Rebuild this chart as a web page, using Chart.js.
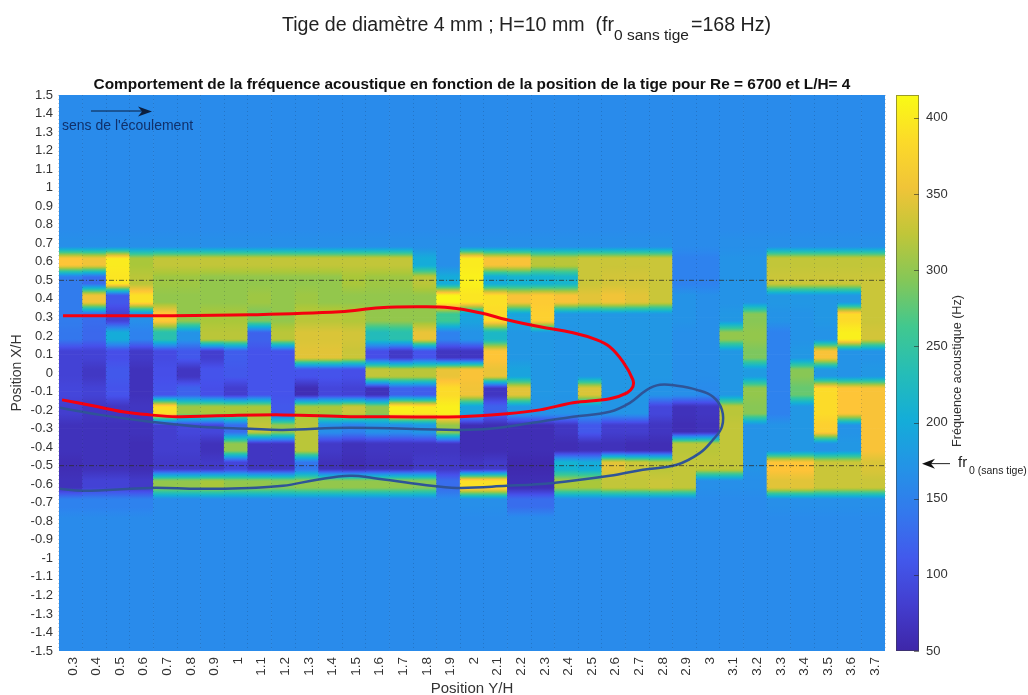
<!DOCTYPE html>
<html>
<head>
<meta charset="utf-8">
<title>Fréquence acoustique</title>
<script src="https://cdn.jsdelivr.net/npm/chart.js@4"></script>
<style>
    html, body { margin: 0; background: #fff; }
    #wrap { position: relative; width: 1028px; height: 695px; overflow: hidden; }
    #heat { position: absolute; left: 0; top: 0; }
    #bar { position: absolute; left: 885px; top: 0; }
</style>
</head>
<body>
<div id="wrap">
    <canvas id="heat" width="1028" height="695"></canvas>
    <canvas id="bar" width="143" height="695"></canvas>
</div>
<script>
const positionsY = ['0.3','0.4','0.5','0.6','0.7','0.8','0.9','1','1.1','1.2','1.3','1.4','1.5','1.6','1.7','1.8','1.9','2','2.1','2.2','2.3','2.4','2.5','2.6','2.7','2.8','2.9','3','3.1','3.2','3.3','3.4','3.5','3.6','3.7'];
const rowsX = [0.7,0.6,0.5,0.4,0.3,0.2,0.1,0,-0.1,-0.2,-0.3,-0.4,-0.5,-0.6,-0.7];
const farField = 160; // flat blue above 0.8 and below -0.8

// acoustic frequency (Hz) per column, one value per entry of rowsX
const col03 = [165,365,145,145,145,140,85,85,90,80,65,65,60,65,150];
const col04 = [165,355,130,355,130,125,85,72,85,70,65,65,65,85,150];
const col05 = [165,400,395,110,85,200,100,110,105,70,65,65,65,85,150];
const col06 = [165,310,320,390,165,150,75,65,65,70,65,60,60,75,150];
const col07 = [165,325,305,300,370,240,95,100,105,390,80,80,75,300,160];
const col08 = [165,325,305,300,300,170,110,70,120,305,90,80,75,300,160];
const col09 = [165,325,300,300,310,320,80,105,100,310,90,65,75,310,160];
const col10 = [165,325,300,300,310,320,115,110,80,310,130,300,90,300,160];
const col11 = [165,325,300,305,290,120,105,105,105,310,325,70,70,300,160];
const col12 = [165,325,300,300,300,320,105,105,105,110,300,70,70,295,160];
const col13 = [165,325,300,305,320,340,345,105,60,310,320,320,140,300,160];
const col14 = [165,325,300,300,320,340,345,105,90,310,165,75,65,300,160];
const col15 = [165,325,310,300,315,335,330,100,85,330,150,65,60,300,160];
const col16 = [165,325,305,300,300,230,100,325,65,300,170,70,65,300,160];
const col17 = [165,325,305,300,300,240,75,320,120,405,165,70,65,300,160];
const col18 = [165,200,320,300,300,350,105,320,115,400,175,70,75,295,160];
const col19 = [165,165,200,410,260,150,70,350,385,405,300,70,75,130,160];
const col20 = [165,400,405,395,190,170,70,360,355,190,60,60,70,390,165];
const col21 = [165,360,200,390,385,220,365,350,70,120,60,60,75,390,165];
const col22 = [165,360,210,360,190,175,175,190,345,175,60,60,55,60,130];
const col23 = [165,320,210,370,375,175,175,175,175,170,60,60,55,60,130];
const col24 = [165,320,215,360,175,172,172,172,172,170,70,60,210,310,160];
const col25 = [165,330,330,345,175,175,175,175,340,175,110,65,200,310,160];
const col26 = [165,330,335,355,175,175,175,175,175,172,80,65,345,325,160];
const col27 = [165,330,335,345,175,175,175,175,175,172,80,60,330,325,160];
const col28 = [165,330,330,330,175,175,175,175,170,90,70,60,320,330,160];
const col29 = [160,150,150,170,170,165,165,165,165,65,60,320,325,325,160];
const col30 = [160,150,150,165,165,165,165,165,160,70,65,320,325,165,160];
const col31 = [165,170,170,170,175,300,175,175,175,320,325,325,325,165,160];
const col32 = [165,170,170,170,295,300,290,180,300,295,170,170,170,165,160];
const col33 = [165,325,330,175,170,150,150,150,150,150,170,170,365,345,165];
const col34 = [165,325,330,175,170,170,175,295,280,175,175,175,365,345,165];
const col35 = [165,325,330,175,175,170,360,175,385,385,375,170,330,330,165];
const col36 = [165,325,330,175,385,405,170,170,365,365,170,175,330,330,165];
const col37 = [165,325,330,330,330,335,170,175,360,360,360,360,340,330,165];
const columns = [col03,col04,col05,col06,col07,col08,col09,col10,col11,col12,col13,col14,col15,col16,col17,col18,col19,col20,col21,col22,col23,col24,col25,col26,col27,col28,col29,col30,col31,col32,col33,col34,col35,col36,col37];

// hand drawn contours, in axis units
const redX = [0.267,0.636,1.059,1.441,1.61,1.78,1.907,2.034,2.148,2.288,2.428,2.529,2.584,2.64,2.682,2.682,2.657,2.584,2.428,2.288,2.148,1.949,1.652,1.483,1.199,0.919,0.75,0.636,0.521,0.394,0.263];
const redY = [0.309,0.309,0.314,0.33,0.352,0.357,0.352,0.325,0.287,0.249,0.217,0.179,0.141,0.06,-0.037,-0.074,-0.107,-0.139,-0.161,-0.199,-0.22,-0.236,-0.236,-0.236,-0.226,-0.231,-0.236,-0.226,-0.209,-0.177,-0.145];
const blueX = [0.254,0.424,0.636,0.847,1.059,1.199,1.483,1.936,2.076,2.288,2.428,2.584,2.669,2.741,2.796,2.868,2.953,3.021,3.059,3.059,3.021,2.966,2.868,2.724,2.584,2.343,2.148,1.936,1.792,1.58,1.483,1.343,1.199,1.059,0.847,0.636,0.352,0.254];
const blueY = [-0.188,-0.226,-0.263,-0.29,-0.301,-0.307,-0.296,-0.307,-0.301,-0.263,-0.236,-0.209,-0.161,-0.091,-0.064,-0.069,-0.091,-0.128,-0.199,-0.29,-0.36,-0.431,-0.495,-0.522,-0.555,-0.593,-0.609,-0.62,-0.603,-0.566,-0.555,-0.576,-0.609,-0.62,-0.625,-0.62,-0.636,-0.625];
const markerLinesX = [0.5, -0.5];

const barTicks = [50,100,150,200,250,300,350,400];
const fMin = 50, fMax = 415, fr0Arrow = 173;

// parula, 8 anchors
const parula = [[62,38,168],[70,80,235],[44,134,238],[18,177,214],[55,200,151],[171,199,57],[254,195,56],[249,251,21]];

function colorFor(v) {
    const t = Math.min(0.9999, Math.max(0, (v - fMin) / (fMax - fMin))) * (parula.length - 1);
    const i = Math.floor(t), f = t - i;
    const a = parula[i], b = parula[i + 1];
    return `rgb(${a[0] + (b[0] - a[0]) * f},${a[1] + (b[1] - a[1]) * f},${a[2] + (b[2] - a[2]) * f})`;
}

// colour holds near each row and changes in the middle part of the cell
function rampFill(canvasCtx, y0, y1, v0, v1, hold) {
    // scales have no pixels yet on the first option pass
    if (!isFinite(y0) || !isFinite(y1)) return colorFor(v0);
    const g = canvasCtx.createLinearGradient(0, y0, 0, y1);
    for (let i = 0; i <= 12; i++) {
        const t = i / 12;
        const k = Math.min(1, Math.max(0, (t - hold) / (1 - 2 * hold)));
        g.addColorStop(t, colorFor(v0 + (v1 - v0) * k));
    }
    return g;
}

// row edges including the flat outer parts
const rowEdges = [1.5, 0.8, ...rowsX, -0.8, -1.5];
const valueAt = (colIndex, edgeIndex) => {
    const k = edgeIndex - 2;
    return (k < 0 || k >= rowsX.length) ? farField : columns[colIndex][k];
};

const datasets = [];
markerLinesX.forEach(v => {
    datasets.push({
        type: 'line', xAxisID: 'xLine', yAxisID: 'y', order: 0,
        data: [{x: 0.25, y: v}, {x: 3.75, y: v}],
        borderColor: 'rgba(45,45,40,0.75)', borderWidth: 1, borderDash: [5, 2, 1, 2], pointRadius: 0
    });
});
datasets.push({
    type: 'line', xAxisID: 'xLine', yAxisID: 'y', order: 0,
    data: redX.map((x, i) => ({x: x, y: redY[i]})),
    borderColor: '#f5000f', borderWidth: 3, tension: 0.4, pointRadius: 0
});
datasets.push({
    type: 'line', xAxisID: 'xLine', yAxisID: 'y', order: 0,
    data: blueX.map((x, i) => ({x: x, y: blueY[i]})),
    borderColor: '#2f5497', borderWidth: 2.5, tension: 0.4, pointRadius: 0
});
for (let e = 0; e < rowEdges.length - 1; e++) {
    datasets.push({
        type: 'bar', xAxisID: 'x', yAxisID: 'y', order: 1,
        grouped: false, barPercentage: 1, categoryPercentage: 1, borderWidth: 0,
        data: positionsY.map(() => [rowEdges[e + 1], rowEdges[e]]),
        backgroundColor: c => {
            const y = c.chart.scales.y;
            if (!y) return colorFor(farField);
            return rampFill(c.chart.ctx, y.getPixelForValue(rowEdges[e]), y.getPixelForValue(rowEdges[e + 1]),
                valueAt(c.dataIndex, e), valueAt(c.dataIndex, e + 1), 0.2);
        }
    });
}

const heatText = {
    id: 'heatText',
    afterDraw(chart) {
        const ctx = chart.ctx;
        ctx.save();
        ctx.fillStyle = '#222';
        ctx.textBaseline = 'alphabetic';
        ctx.font = '19.6px "Liberation Sans"';
        ctx.fillText('Tige de diamètre 4 mm ; H=10 mm  (fr', 282, 31);
        ctx.font = '15.5px "Liberation Sans"';
        ctx.fillText('0 sans tige', 614, 40);
        ctx.font = '19.6px "Liberation Sans"';
        ctx.fillText('=168 Hz)', 691, 31);

        ctx.fillStyle = '#10306a';
        ctx.font = '14px "Liberation Sans"';
        ctx.fillText("sens de l'écoulement", 62, 130);
        ctx.strokeStyle = '#0b1f40';
        ctx.lineWidth = 1;
        ctx.beginPath(); ctx.moveTo(91, 111); ctx.lineTo(145, 111); ctx.stroke();
        ctx.fillStyle = '#0b1f40';
        ctx.beginPath(); ctx.moveTo(152, 111.5); ctx.lineTo(138, 106.5); ctx.lineTo(142, 111.5); ctx.lineTo(138, 116.5); ctx.fill();
        ctx.restore();
    }
};

new Chart(document.getElementById('heat').getContext('2d'), {
    data: { labels: positionsY, datasets: datasets },
    plugins: [heatText],
    options: {
        responsive: false,
        animation: false,
        layout: { padding: { top: 76, right: 143, left: 0, bottom: 0 } },
        plugins: {
            legend: { display: false },
            tooltip: { enabled: false },
            title: {
                display: true, fullSize: false,
                text: 'Comportement de la fréquence acoustique en fonction de la position de la tige pour Re = 6700 et L/H= 4',
                color: '#111', font: { family: '"Liberation Sans"', size: 15.4, weight: 'bold' },
                padding: { top: 0, bottom: 0.5 }
            }
        },
        scales: {
            x: {
                type: 'category', position: 'bottom', offset: true,
                afterFit: s => { s.height = 44; },
                grid: { offset: true, color: 'rgba(20,40,70,0.22)', drawTicks: false, z: 1 },
                border: { display: false, dash: [1, 3] },
                ticks: { autoSkip: false, minRotation: 90, maxRotation: 90, padding: 6, labelOffset: 2, color: '#333', font: { family: '"Liberation Sans"', size: 13.5 } },
                title: { display: true, text: 'Position Y/H', color: '#333', padding: { top: 0, bottom: -3 }, font: { family: '"Liberation Sans"', size: 15 } }
            },
            xLine: { type: 'linear', display: false, min: 0.25, max: 3.75 },
            y: {
                type: 'linear', position: 'left', min: -1.5, max: 1.5,
                afterFit: s => { s.width = 59; },
                grid: { display: false, drawTicks: false },
                border: { display: false },
                ticks: {
                    stepSize: 0.1, autoSkip: false, padding: 6, color: '#333',
                    font: { family: '"Liberation Sans"', size: 13 },
                    callback: v => String(Number(v.toFixed(1)))
                },
                title: { display: true, text: 'Position X/H', color: '#333', padding: { top: 9, bottom: 0 }, font: { family: '"Liberation Sans"', size: 14 } }
            }
        }
    }
});

const barMarks = {
    id: 'barMarks',
    afterDraw(chart) {
        const ctx = chart.ctx, y = chart.scales.y, area = chart.chartArea;
        ctx.save();
        ctx.strokeStyle = 'rgba(40,40,40,0.6)';
        ctx.lineWidth = 1;
        barTicks.forEach(v => {
            const py = Math.round(y.getPixelForValue(v)) + 0.5;
            ctx.beginPath(); ctx.moveTo(area.right - 5, py); ctx.lineTo(area.right, py); ctx.stroke();
        });
        ctx.strokeStyle = 'rgba(60,60,60,0.5)';
        ctx.strokeRect(area.left + 0.5, area.top + 0.5, area.width - 1, area.height - 1);

        // rotated colour bar label
        ctx.save();
        ctx.translate(73, 371);
        ctx.rotate(-Math.PI / 2);
        ctx.textAlign = 'center';
        ctx.textBaseline = 'middle';
        ctx.fillStyle = '#333';
        ctx.font = '12.6px "Liberation Sans"';
        ctx.fillText('Fréquence acoustique (Hz)', 0, 0);
        ctx.restore();

        // fr0 marker next to the colour bar
        const py = y.getPixelForValue(fr0Arrow);
        ctx.strokeStyle = '#222';
        ctx.beginPath(); ctx.moveTo(65, py); ctx.lineTo(40, py); ctx.stroke();
        ctx.fillStyle = '#111';
        ctx.beginPath(); ctx.moveTo(37, py); ctx.lineTo(50, py - 5); ctx.lineTo(46, py); ctx.lineTo(50, py + 5); ctx.fill();
        ctx.fillStyle = '#222';
        ctx.font = '15px "Liberation Sans"';
        ctx.fillText('fr', 73, py + 3);
        ctx.font = '10.5px "Liberation Sans"';
        ctx.fillText('0 (sans tige)', 84, py + 10);
        ctx.restore();
    }
};

new Chart(document.getElementById('bar').getContext('2d'), {
    type: 'bar',
    data: {
        labels: [''],
        datasets: [{
            data: [[fMin, fMax]], barPercentage: 1, categoryPercentage: 1, borderWidth: 0,
            backgroundColor: c => {
                const y = c.chart.scales.y;
                if (!y) return colorFor(fMin);
                return rampFill(c.chart.ctx, y.getPixelForValue(fMin), y.getPixelForValue(fMax), fMin, fMax, 0);
            }
        }]
    },
    plugins: [barMarks],
    options: {
        responsive: false,
        animation: false,
        layout: { padding: { top: 95, left: 11, right: 61, bottom: 44 } },
        plugins: { legend: { display: false }, tooltip: { enabled: false } },
        scales: {
            x: { display: false },
            y: {
                position: 'right', min: fMin, max: fMax,
                afterFit: s => { s.width = 48; },
                grid: { display: false, drawTicks: false },
                border: { display: false },
                afterBuildTicks: s => { s.ticks = barTicks.map(v => ({ value: v })); },
                ticks: { padding: 7, color: '#333', font: { family: '"Liberation Sans"', size: 13 } }
            }
        }
    }
});
</script>
</body>
</html>
